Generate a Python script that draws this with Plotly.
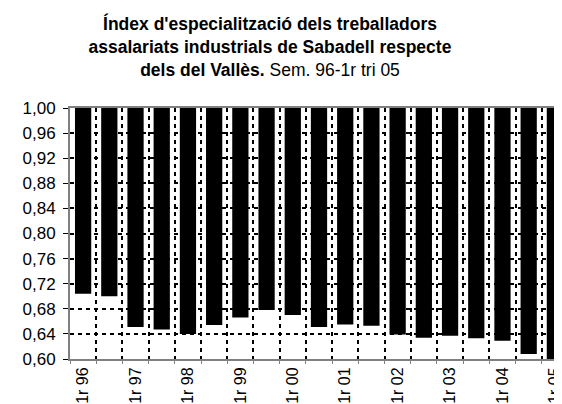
import plotly.graph_objects as go

# semesters from 1r 96 to 1r 05
semesters = ["1r 96", "2n 96", "1r 97", "2n 97", "1r 98", "2n 98", "1r 99", "2n 99",
             "1r 00", "2n 00", "1r 01", "2n 01", "1r 02", "2n 02", "1r 03", "2n 03",
             "1r 04", "2n 04", "1r 05"]
index_values = [0.704, 0.700, 0.651, 0.647, 0.640, 0.654, 0.666, 0.678, 0.670, 0.651,
                0.655, 0.653, 0.639, 0.634, 0.637, 0.633, 0.629, 0.608, 0.600]
top_value = 1.00
y_ticks = [0.60, 0.64, 0.68, 0.72, 0.76, 0.80, 0.84, 0.88, 0.92, 0.96, 1.00]

xs = list(range(len(semesters)))
label_pos = [i for i, s in enumerate(semesters) if s.startswith("1r")]
label_txt = [semesters[i] for i in label_pos]

fig = go.Figure()
# bars hang from 1,00 (axis crosses at the maximum) down to the value
fig.add_trace(go.Bar(
    x=xs,
    y=[top_value - v for v in index_values],
    base=index_values,
    width=0.62,
    marker=dict(color="black", line=dict(width=0)),
    hovertext=semesters,
))

font = "Liberation Sans, Arial, sans-serif"
fig.update_layout(
    width=562, height=404,
    margin=dict(l=62, r=2, t=100, b=53),
    paper_bgcolor="white", plot_bgcolor="white",
    separators=",.",
    showlegend=False,
    font=dict(family=font, size=16, color="black"),
    title=dict(
        text="<b>Índex d'especialització dels treballadors<br>"
             "assalariats industrials de Sabadell respecte<br>"
             "dels del Vallès.</b> Sem. 96-1r tri 05",
        x=262 / 562, xanchor="center", xref="container",
        y=0.945, yanchor="top", yref="container",
        font=dict(family=font, size=17.5, color="black"),
    ),
)
fig.update_xaxes(
    range=[-0.5, len(semesters) - 0.5],
    tickmode="array", tickvals=label_pos, ticktext=label_txt,
    tickangle=-90, ticks="", showgrid=False,
    showline=True, linecolor="#808080", linewidth=2, mirror=True,
    ticklabelstandoff=0,
    minor=dict(tick0=0.5, dtick=1, showgrid=True, gridcolor="black",
               griddash="4px,4px", gridwidth=1.5,
               ticks="outside", ticklen=3, tickcolor="#808080"),
    automargin=False,
)
fig.update_yaxes(
    range=[0.60, 1.00],
    tickmode="array", tickvals=y_ticks, tickformat=".2f",
    tickfont=dict(size=17),
    ticks="outside", ticklen=5, tickcolor="black",
    ticklabelstandoff=4,
    showgrid=True, gridcolor="black", griddash="4px,4px", gridwidth=1.5,
    showline=True, linecolor="#808080", linewidth=2, mirror=True,
    zeroline=False, automargin=False,
)

fig.write_html("out.html")
